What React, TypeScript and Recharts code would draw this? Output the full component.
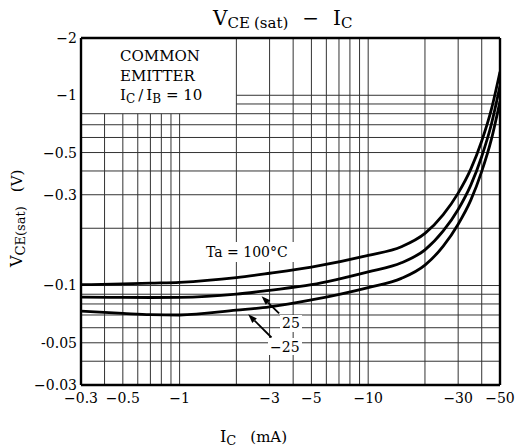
import React from 'react';
import { LineChart, Line, XAxis, YAxis, ReferenceLine } from 'recharts';

// collector current, mA (shown as negative on the chart)
const icValues = [0.3, 0.5, 0.7, 1, 2, 3, 5, 10, 15, 20, 25, 30, 35, 40, 45, 50];
// |VCE(sat)| in volts for each ambient temperature
const vce100 = [0.101, 0.102, 0.103, 0.104, 0.11, 0.116, 0.125, 0.144, 0.16, 0.188, 0.236, 0.306, 0.409, 0.575, 0.843, 1.33];
const vce25 = [0.087, 0.0866, 0.0865, 0.0866, 0.09, 0.0944, 0.101, 0.118, 0.1316, 0.154, 0.1936, 0.251, 0.337, 0.477, 0.704, 1.12];
const vceMinus25 = [0.0733, 0.0714, 0.0703, 0.07, 0.0742, 0.0772, 0.084, 0.0976, 0.109, 0.128, 0.161, 0.21, 0.281, 0.398, 0.586, 0.93];

const xTicks = [0.3, 0.5, 1, 3, 5, 10, 30, 50];
const xTickLabels = ['−0.3', '−0.5', '−1', '−3', '−5', '−10', '−30', '−50'];
const yTicks = [0.03, 0.05, 0.1, 0.3, 0.5, 1, 2];
const yTickLabels = ['−0.03', '-0.05', '−0.1', '−0.3', '−0.5', '−1', '−2'];

const xGrid = [0.4, 0.5, 0.6, 0.7, 0.8, 0.9, 1, 2, 3, 4, 5, 6, 7, 8, 9, 10, 20, 30, 40];
const yGrid = [0.04, 0.05, 0.06, 0.07, 0.08, 0.09, 0.1, 0.2, 0.3, 0.4, 0.5, 0.6, 0.7, 0.8, 0.9, 1];

const xMin = 0.3;
const xMax = 50;
const yMin = 0.03;
const yMax = 2;
// the "COMMON EMITTER" note box hides the grid up to these values
const boxX = 2;
const boxY = 0.8;

const data = icValues.map((ic, i) => ({
  ic,
  t100: vce100[i],
  t25: vce25[i],
  tm25: vceMinus25[i],
}));

const serif = '"DejaVu Serif", serif';
const gridColor = '#333';

const Arrow = (props: any) => {
  const { x1, y1, x2, y2 } = props;
  if (x1 == null || y2 == null) return null;
  const a = Math.atan2(y2 - y1, x2 - x1);
  const len = 9;
  const w = 3.2;
  const bx = x2 - len * Math.cos(a);
  const by = y2 - len * Math.sin(a);
  const px = -Math.sin(a) * w;
  const py = Math.cos(a) * w;
  return (
    <g>
      <line x1={x1} y1={y1} x2={bx} y2={by} stroke="#000" strokeWidth={1.8} />
      <polygon points={`${x2},${y2} ${bx + px},${by + py} ${bx - px},${by - py}`} fill="#000" />
    </g>
  );
};

export default function App() {
  const tickStyle = { fontFamily: serif, fontSize: 14, fill: '#000' };

  return (
    <div style={{ position: 'absolute', left: 0, top: 0, width: 519, height: 448, background: '#fff' }}>
      <LineChart
        width={519}
        height={448}
        data={data}
        margin={{ top: 38, right: 19, left: 0, bottom: 0 }}
      >
        <XAxis
          dataKey="ic"
          type="number"
          scale="log"
          domain={[xMin, xMax]}
          allowDataOverflow
          ticks={xTicks}
          tickFormatter={(v: number) => xTickLabels[xTicks.indexOf(v)] ?? ''}
          tickLine={false}
          axisLine={false}
          tickSize={4}
          tickMargin={4}
          height={63}
          tick={tickStyle}
          interval={0}
        />
        <YAxis
          type="number"
          scale="log"
          domain={[yMin, yMax]}
          allowDataOverflow
          ticks={yTicks}
          tickFormatter={(v: number) => yTickLabels[yTicks.indexOf(v)] ?? ''}
          tickLine={false}
          axisLine={false}
          tickSize={4}
          tickMargin={0}
          width={81}
          tick={tickStyle}
          interval={0}
        />

        {xGrid.map((v) =>
          v < boxX ? (
            <ReferenceLine
              key={'vx' + v}
              segment={[{ x: v, y: yMin }, { x: v, y: boxY }]}
              stroke={gridColor}
              strokeWidth={1}
            />
          ) : (
            <ReferenceLine key={'vx' + v} x={v} stroke={gridColor} strokeWidth={1} />
          )
        )}
        {yGrid.map((v) =>
          v > boxY ? (
            <ReferenceLine
              key={'hy' + v}
              segment={[{ x: boxX, y: v }, { x: xMax, y: v }]}
              stroke={gridColor}
              strokeWidth={1}
            />
          ) : (
            <ReferenceLine key={'hy' + v} y={v} stroke={gridColor} strokeWidth={1} />
          )
        )}

        <ReferenceLine x={xMin} stroke="#000" strokeWidth={2.4} />
        <ReferenceLine x={xMax} stroke="#000" strokeWidth={2.4} />
        <ReferenceLine y={yMin} stroke="#000" strokeWidth={2.4} />
        <ReferenceLine y={yMax} stroke="#000" strokeWidth={2.4} />

        <Line dataKey="t100" type="monotone" stroke="#000" strokeWidth={2.8} dot={false} isAnimationActive={false} />
        <Line dataKey="t25" type="monotone" stroke="#000" strokeWidth={2.8} dot={false} isAnimationActive={false} />
        <Line dataKey="tm25" type="monotone" stroke="#000" strokeWidth={2.8} dot={false} isAnimationActive={false} />

        <ReferenceLine
          segment={[{ x: 3.37, y: 0.0713 }, { x: 2.72, y: 0.0878 }]}
          shape={(p: any) => <Arrow {...p} />}
        />
        <ReferenceLine
          segment={[{ x: 3.07, y: 0.0533 }, { x: 2.31, y: 0.0706 }]}
          shape={(p: any) => <Arrow {...p} />}
        />
      </LineChart>

      <svg
        width={519}
        height={448}
        style={{ position: 'absolute', left: 0, top: 0, pointerEvents: 'none' }}
        fontFamily={serif}
        fill="#000"
      >
        {/* title */}
        <text x={213} y={25}>
          <tspan fontSize={20}>V</tspan>
          <tspan fontSize={15} dy={3}>CE</tspan>
          <tspan fontSize={15} dx={4}>(sat)</tspan>
          <tspan fontSize={20} dx={14} dy={-3}>−</tspan>
          <tspan fontSize={20} dx={14}>I</tspan>
          <tspan fontSize={15} dy={3}>C</tspan>
        </text>

        {/* y axis label */}
        <text transform="translate(22, 267) rotate(-90)">
          <tspan fontSize={16}>V</tspan>
          <tspan fontSize={13} dy={3}>CE(sat)</tspan>
          <tspan fontSize={15} dx={14} dy={-3}>(V)</tspan>
        </text>

        {/* x axis label */}
        <text x={220} y={442}>
          <tspan fontSize={16}>I</tspan>
          <tspan fontSize={13} dy={3}>C</tspan>
          <tspan fontSize={15} dx={14} dy={-3}>(mA)</tspan>
        </text>

        {/* note box */}
        <text x={120} y={61} fontSize={15}>COMMON</text>
        <text x={120} y={81} fontSize={15}>EMITTER</text>
        <text x={120} y={100}>
          <tspan fontSize={15}>I</tspan>
          <tspan fontSize={12} dy={3}>C</tspan>
          <tspan fontSize={15} dx={3} dy={-3}>/</tspan>
          <tspan fontSize={15} dx={3}>I</tspan>
          <tspan fontSize={12} dy={3}>B</tspan>
          <tspan fontSize={15} dx={5} dy={-3}>= 10</tspan>
        </text>

        {/* curve labels */}
        <rect x={203} y={242} width={92} height={20} fill="#fff" />
        <text x={206} y={257} fontSize={14}>Ta = 100°C</text>
        <rect x={280} y={315} width={22} height={17} fill="#fff" />
        <text x={282} y={328} fontSize={14}>25</text>
        <rect x={268} y={338} width={34} height={17} fill="#fff" />
        <text x={270} y={352} fontSize={14}>−25</text>
      </svg>
    </div>
  );
}
